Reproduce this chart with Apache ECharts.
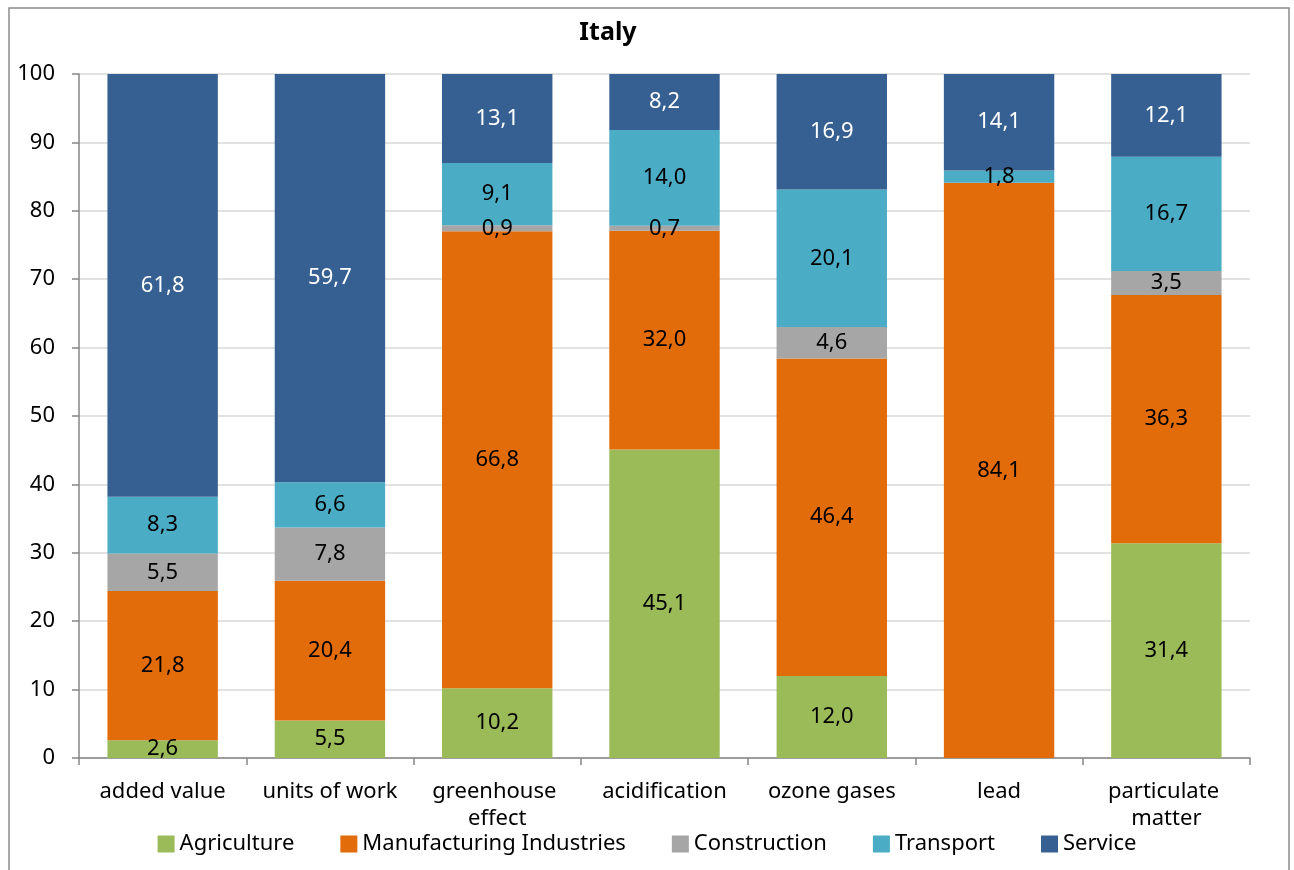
<!DOCTYPE html>
<html><head><meta charset="utf-8">
<script src="https://cdn.jsdelivr.net/npm/echarts@6/dist/echarts.min.js"></script>
<style>html,body{margin:0;padding:0;background:#fff}#c{width:1294px;height:870px}</style>
</head><body><div id="c"></div>
<script>
const categories = ["added value","units of work","greenhouse effect","acidification","ozone gases","lead","particulate matter"];
const agriculture = [2.6,5.5,10.2,45.1,12.0,0,31.4];
const manufacturing = [21.8,20.4,66.8,32.0,46.4,84.1,36.3];
const construction = [5.5,7.8,0.9,0.7,4.6,0,3.5];
const transport = [8.3,6.6,9.1,14.0,20.1,1.8,16.7];
const service = [61.8,59.7,13.1,8.2,16.9,14.1,12.1];
const yTicks = [0,10,20,30,40,50,60,70,80,90,100];

const FONT = "Noto Sans";
const FS = 22;
const fmt = p => p.value === 0 ? '' : p.value.toFixed(1).replace('.', ',');
function mk(name, data, color, labelColor) {
  return {
    name, type: 'bar', stack: 'all', data, barCategoryGap: '34%',
    itemStyle: { color },
    label: { show: true, position: 'inside', formatter: fmt, color: labelColor, fontFamily: FONT, fontSize: FS }
  };
}
const chart = echarts.init(document.getElementById('c'), null, { renderer: 'canvas' });
chart.setOption({
  animation: false,
  title: { text: 'Italy', left: 603, top: 15, textAlign: 'center', textStyle: { fontFamily: FONT, fontSize: 25, fontWeight: 'bold', color: '#000' } },
  graphic: [{ type: 'rect', shape: { x: 9, y: 8, width: 1280, height: 900 }, style: { fill: 'none', stroke: '#8a8a8a', lineWidth: 1.5 }, silent: true }],
  grid: { left: 79, right: 44, top: 74, bottom: 112 },
  legend: {
    top: 828, left: 'center', itemWidth: 17, itemHeight: 17, itemGap: 46, itemTextGap: 5, icon: 'rect',
    textStyle: { fontFamily: FONT, fontSize: FS, color: '#000' },
    data: ['Agriculture','Manufacturing Industries','Construction','Transport','Service']
  },
  xAxis: {
    type: 'category', data: categories,
    axisLine: { lineStyle: { color: '#868686', width: 1.5 } },
    axisTick: { show: true, length: 7, lineStyle: { color: '#868686', width: 1.5 } },
    axisLabel: { fontFamily: FONT, fontSize: FS, color: '#000', margin: 20, width: 160, overflow: 'break', lineHeight: 27, interval: 0 }
  },
  yAxis: {
    type: 'value', min: 0, max: 100, interval: 10,
    axisLine: { show: true, lineStyle: { color: '#868686', width: 1.5 } },
    axisTick: { show: true, length: 7, lineStyle: { color: '#868686', width: 1.5 } },
    axisLabel: { fontFamily: FONT, fontSize: FS, color: '#000', margin: 24, formatter: v => yTicks.includes(v) ? String(v) : '' },
    splitLine: { lineStyle: { color: '#d9d9d9', width: 1.5 } }
  },
  series: [
    mk('Agriculture', agriculture, '#9BBB59', '#000'),
    mk('Manufacturing Industries', manufacturing, '#E36C0A', '#000'),
    mk('Construction', construction, '#A6A6A6', '#000'),
    mk('Transport', transport, '#4BACC6', '#000'),
    mk('Service', service, '#376092', '#fff')
  ]
});
</script></body></html>
